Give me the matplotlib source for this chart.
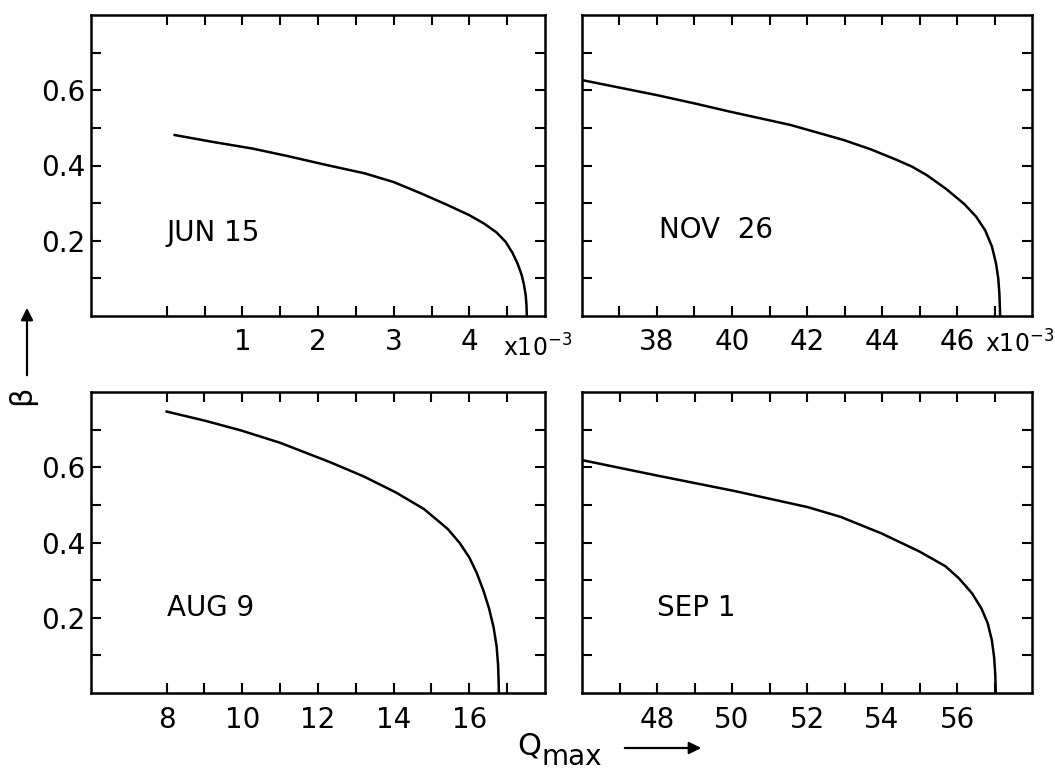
import numpy as np
import matplotlib
matplotlib.use("Agg")
import matplotlib.pyplot as plt

plt.rcParams['font.family'] = ['DejaVu Sans']
plt.rcParams['font.size'] = 20

# beta versus Q_max, four dates (Q in units of 1e-3 for the top row)
jun_q = [0.105, 0.6, 1.135, 1.6, 2.12, 2.62, 3.0, 3.36, 3.7, 4.0, 4.2, 4.36, 4.48, 4.57, 4.64, 4.69, 4.72, 4.745, 4.755, 4.76]
jun_b = [0.481, 0.463, 0.445, 0.425, 0.401, 0.379, 0.356, 0.326, 0.296, 0.268, 0.245, 0.222, 0.197, 0.168, 0.138, 0.11, 0.085, 0.055, 0.03, 0.0]

nov_q = [36.0, 37.0, 38.0, 39.0, 39.95, 41.55, 42.97, 43.7, 44.39, 44.8, 45.2, 45.72, 46.2, 46.51, 46.75, 46.93, 47.04, 47.1, 47.13, 47.145, 47.15]
nov_b = [0.627, 0.607, 0.587, 0.565, 0.543, 0.508, 0.468, 0.443, 0.415, 0.397, 0.374, 0.337, 0.297, 0.264, 0.228, 0.185, 0.14, 0.1, 0.06, 0.02, 0.0]

aug_q = [8.0, 9.0, 9.96, 11.0, 12.33, 13.2, 14.06, 14.8, 15.43, 15.75, 16.0, 16.2, 16.38, 16.52, 16.64, 16.72, 16.76, 16.775, 16.78]
aug_b = [0.748, 0.724, 0.698, 0.665, 0.613, 0.576, 0.533, 0.489, 0.436, 0.398, 0.36, 0.318, 0.27, 0.225, 0.175, 0.125, 0.075, 0.03, 0.0]

sep_q = [46.0, 48.0, 50.06, 52.02, 52.9, 53.99, 55.0, 55.69, 56.05, 56.4, 56.65, 56.82, 56.93, 56.99, 57.02, 57.035]
sep_b = [0.619, 0.578, 0.537, 0.494, 0.468, 0.424, 0.376, 0.337, 0.305, 0.265, 0.225, 0.185, 0.14, 0.095, 0.05, 0.0]

y_labels = [0.2, 0.4, 0.6]
y_minor = [0.1, 0.3, 0.5, 0.7]

W, H = 1055, 770
fig = plt.figure(figsize=(W / 100, H / 100), dpi=100)


def rect(x0, y0, x1, y1):
    return [x0 / W, 1 - y1 / H, (x1 - x0) / W, (y1 - y0) / H]


def panel(r, q, b, xlim, major, minor, label, lab_pos, show_y):
    ax = fig.add_axes(r)
    ax.plot(q, b, color='black', lw=1.8)
    ax.set_xlim(*xlim)
    ax.set_ylim(0, 0.8)
    ax.set_xticks(major)
    ax.set_xticks(minor, minor=True)
    ax.set_xticklabels([str(int(m)) for m in major])
    ax.set_yticks(y_labels)
    ax.set_yticks(y_minor, minor=True)
    if show_y:
        ax.set_yticklabels([str(v) for v in y_labels])
    else:
        ax.set_yticklabels([])
    for which in ('major', 'minor'):
        ax.tick_params(which=which, direction='in', top=True, right=True,
                       length=7, width=1.5, labelsize=20)
    ax.tick_params(axis='x', pad=9)
    ax.tick_params(axis='y', pad=4)
    for s in ax.spines.values():
        s.set_linewidth(1.8)
    ax.text(lab_pos[0], lab_pos[1], label, fontsize=20, va='center', ha='left')
    return ax


panel(rect(91, 15, 545, 316), jun_q, jun_b, (-1, 5), [1, 2, 3, 4],
      [0, 0.5, 1.5, 2.5, 3.5, 4.5], 'JUN 15', (0.0, 0.22), True)
panel(rect(582, 15, 1032, 316), nov_q, nov_b, (36, 48), [38, 40, 42, 44, 46],
      [37, 39, 41, 43, 45, 47], 'NOV  26', (38.05, 0.229), False)
panel(rect(91, 392, 545, 693), aug_q, aug_b, (6, 18), [8, 10, 12, 14, 16],
      [9, 11, 13, 15, 17], 'AUG 9', (8.0, 0.227), True)
panel(rect(582, 392, 1032, 693), sep_q, sep_b, (46, 58), [48, 50, 52, 54, 56],
      [47, 49, 51, 53, 55, 57], 'SEP 1', (48.0, 0.226), False)

# scale factors under the top panels
for x0, base in [(503, 357), (985, 353)]:
    fig.text(x0 / W, 1 - base / H, 'x10$^{-3}$', fontsize=17, va='baseline', ha='left')

# axis labels with arrows
fig.text(517 / W, 1 - 754 / H, 'Q', fontsize=22, va='baseline', ha='left')
fig.text(541 / W, 1 - 765 / H, 'max', fontsize=20, va='baseline', ha='left')
fig.text(22 / W, 1 - 395 / H, 'β', fontsize=22, rotation=90, va='center', ha='center')
arrow = dict(arrowstyle='-|>', color='black', lw=1.6, mutation_scale=18)
fig.add_artist(matplotlib.patches.FancyArrowPatch(
    (622 / W, 1 - 748 / H), (704 / W, 1 - 748 / H), transform=fig.transFigure, **arrow))
fig.add_artist(matplotlib.patches.FancyArrowPatch(
    (27 / W, 1 - 378 / H), (27 / W, 1 - 305 / H), transform=fig.transFigure, **arrow))

fig.savefig('out.png', dpi=100)
